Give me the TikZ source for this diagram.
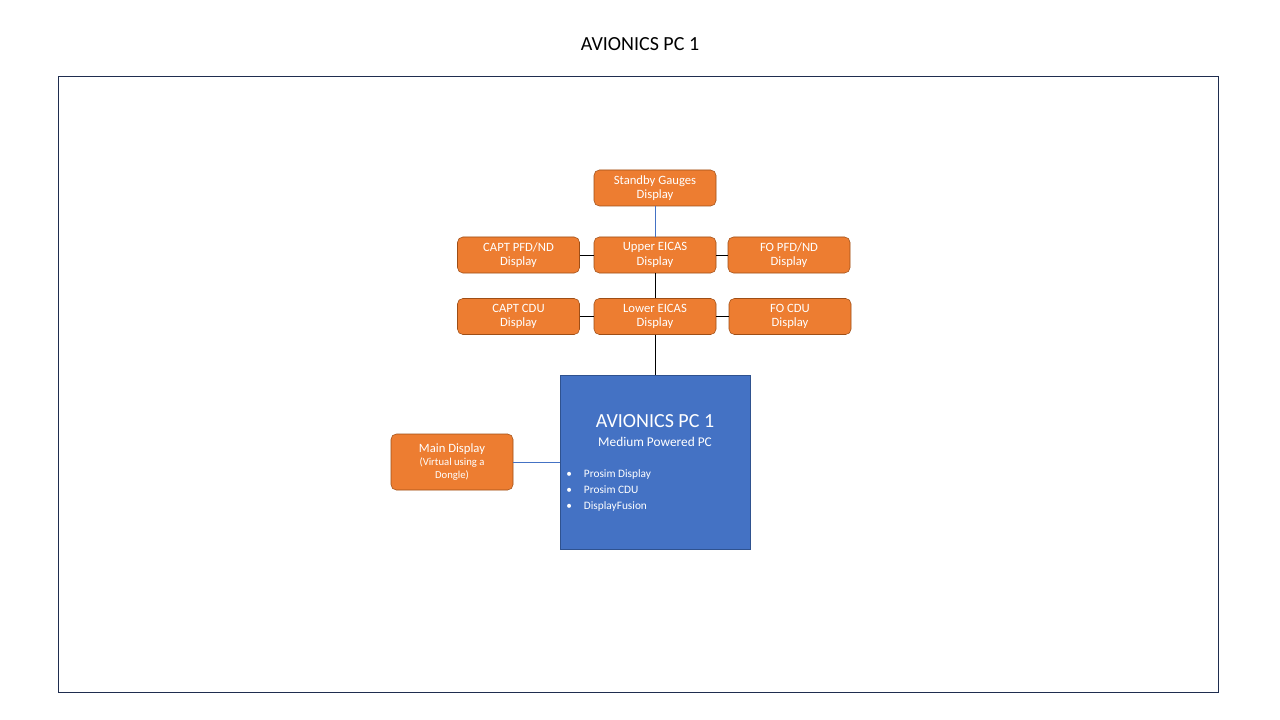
\documentclass[tikz,border=0pt]{standalone}
\usepackage{fontspec}
\setmainfont{Carlito}
\definecolor{org}{HTML}{ED7D31}
\definecolor{orgb}{HTML}{9E4E16}
\definecolor{blu}{HTML}{4472C4}
\definecolor{blub}{HTML}{2F528F}
\definecolor{frm}{HTML}{1F2D4F}
\begin{document}
\begin{tikzpicture}[x=0.75pt,y=-0.75pt,
  ob/.style={draw=orgb,fill=org,rounded corners=4pt,minimum width=91.5pt,minimum height=27pt,text=white,align=center,font=\fontsize{9.5}{11}\selectfont,inner sep=1pt},
  bl/.style={draw=blu,line width=0.6pt},
  bk/.style={draw=black,line width=0.6pt}]
\useasboundingbox (0,0) rectangle (1280,720);
\fill[white] (0,0) rectangle (1280,720);
\node[font=\fontsize{15}{18}\selectfont] (title) at (640,44) {AVIONICS PC 1};
\draw[frm,line width=0.6pt] (58,76) rectangle (1218,692);
\node[ob] (sg) at (655,188) {Standby Gauges\\Display};
\node[ob] (cp) at (518.5,255) {CAPT PFD/ND\\Display};
\node[ob] (ue) at (655,255) {Upper EICAS\\Display};
\node[ob] (fp) at (789,255) {FO PFD/ND\\Display};
\node[ob] (cc) at (518.5,316.5) {CAPT CDU\\Display};
\node[ob] (le) at (655,316.5) {Lower EICAS\\Display};
\node[ob] (fc) at (790,316.5) {FO CDU\\Display};
\node[ob,minimum height=42pt] (md) at (452,462) {Main Display\\[-1pt]{\fontsize{8}{9.5}\selectfont (Virtual using a}\\[-1pt]{\fontsize{8}{9.5}\selectfont Dongle)}};
\node[draw=blub,fill=blu,minimum width=142.5pt,minimum height=130.5pt,inner sep=0pt] (pc) at (655,462) {};
\node[text=white,font=\fontsize{15}{18}\selectfont] (pct) at (655,421) {AVIONICS PC 1};
\node[text=white,font=\fontsize{10}{12}\selectfont] (pcs) at (655,442) {Medium Powered PC};
\node[text=white,font=\fontsize{8.5}{12}\selectfont,align=left,anchor=north west,inner sep=0pt] (pcl) at (566,469) {\textbullet\hspace{9pt}Prosim Display\\\textbullet\hspace{9pt}Prosim CDU\\\textbullet\hspace{9pt}DisplayFusion};
\draw[bl] (sg) -- (ue);
\draw[bk] (cp) -- (ue);
\draw[bk] (ue) -- (fp);
\draw[bk] (ue) -- (le);
\draw[bk] (cc) -- (le);
\draw[bk] (le) -- (fc);
\draw[bk] (le) -- (pc);
\draw[bl] (md) -- (pc);
\end{tikzpicture}
\end{document}
